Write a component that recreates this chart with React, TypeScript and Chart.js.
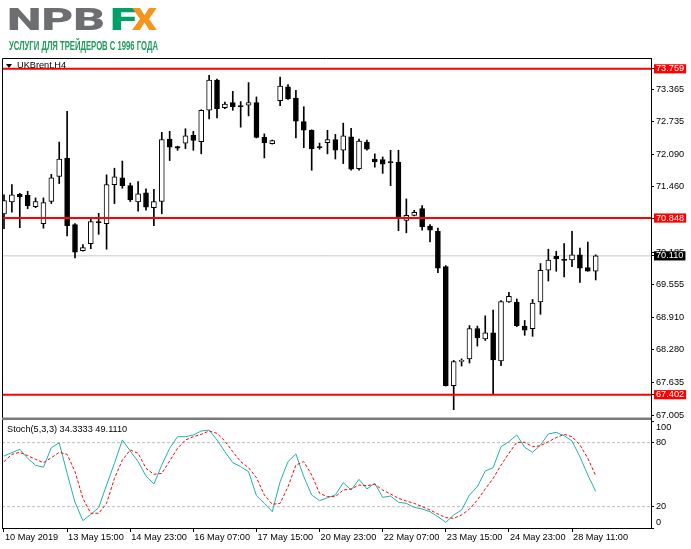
import React, { useEffect, useLayoutEffect, useRef } from "react";
import { Chart, registerables } from "chart.js";
Chart.register(...registerables);

// ---- Data (UKBrent, H4) ----
const opens = [70.93, 71.16, 71.31, 71.29, 71.07, 70.74, 71.17, 71.66, 72.02, 70.72, 70.21, 70.35, 70.78, 70.74, 71.50, 71.63, 71.48, 71.16, 71.34, 71.05, 71.17, 72.39, 72.24, 72.31, 72.46, 72.34, 72.95, 73.54, 73.00, 73.10, 73.04, 73.05, 73.10, 72.42, 72.30, 73.14, 73.41, 73.19, 72.73, 72.56, 72.24, 72.32, 72.38, 72.17, 72.43, 71.81, 72.33, 72.00, 71.99, 71.95, 71.94, 70.80, 70.90, 71.03, 70.69, 70.59, 69.90, 67.58, 68.05, 68.10, 68.69, 68.49, 68.61, 68.06, 69.21, 69.21, 68.74, 68.69, 69.21, 69.83, 70.10, 70.04, 70.03, 70.13, 69.88, 69.81];
const highs = [71.30, 71.50, 71.33, 71.37, 71.24, 71.24, 71.70, 72.33, 72.93, 70.74, 70.33, 70.85, 70.94, 71.69, 71.82, 71.96, 71.53, 71.56, 71.42, 71.41, 72.52, 72.54, 72.25, 72.59, 72.54, 72.96, 73.63, 73.56, 73.11, 73.32, 73.12, 73.49, 73.21, 72.49, 72.37, 73.60, 73.45, 73.34, 73.02, 72.57, 72.31, 72.56, 72.48, 72.70, 72.60, 72.39, 72.37, 72.10, 72.04, 72.17, 72.17, 71.22, 71.00, 71.09, 70.72, 70.65, 69.92, 68.07, 68.10, 68.75, 68.74, 68.94, 69.05, 69.24, 69.40, 69.27, 68.85, 69.26, 69.96, 70.24, 70.20, 70.35, 70.59, 70.26, 70.38, 70.13];
const lows = [70.64, 70.96, 70.66, 71.03, 71.05, 70.65, 71.13, 71.52, 70.50, 70.07, 70.20, 70.25, 70.53, 70.24, 71.13, 71.43, 71.17, 70.98, 71.00, 70.70, 70.93, 71.97, 72.17, 72.20, 72.17, 72.10, 72.78, 72.80, 72.98, 72.95, 72.62, 72.84, 72.41, 72.02, 72.29, 73.04, 73.16, 72.41, 72.22, 71.78, 72.19, 72.10, 72.00, 71.91, 71.78, 71.78, 72.17, 71.84, 71.72, 71.48, 70.60, 70.56, 70.89, 70.61, 70.38, 69.78, 67.57, 67.11, 67.96, 68.02, 68.35, 68.46, 67.40, 67.97, 69.20, 68.73, 68.56, 68.54, 68.97, 69.62, 69.81, 69.70, 69.90, 69.59, 69.81, 69.64];
const closes = [71.19, 71.30, 71.26, 71.09, 71.17, 71.15, 71.63, 72.00, 70.70, 70.18, 70.27, 70.78, 70.76, 71.50, 71.65, 71.48, 71.20, 71.32, 71.06, 71.17, 72.38, 72.23, 72.21, 72.45, 72.36, 72.95, 73.54, 72.98, 73.07, 73.02, 73.02, 73.10, 72.42, 72.32, 72.36, 73.42, 73.17, 72.74, 72.56, 72.20, 72.22, 72.38, 72.17, 72.45, 71.80, 72.35, 72.19, 71.95, 71.90, 71.93, 70.84, 70.90, 70.96, 70.68, 70.61, 69.87, 67.58, 68.05, 68.07, 68.69, 68.51, 68.61, 68.08, 69.22, 69.32, 68.75, 68.66, 69.19, 69.83, 70.03, 70.05, 70.02, 70.13, 69.87, 69.81, 70.11];

const stochMain = [67.5, 70.6, 73.7, 65.3, 58.8, 56.9, 75.3, 79.7, 51.3, 24.1, 6.9, 12.8, 19.0, 40.3, 60.6, 82.5, 72.2, 62.2, 48.7, 41.2, 59.0, 74.7, 85.6, 85.6, 87.2, 90.9, 91.8, 82.5, 71.5, 61.2, 57.5, 52.8, 30.3, 23.1, 15.3, 43.4, 62.2, 69.4, 48.1, 30.9, 25.6, 28.4, 30.9, 42.5, 35.6, 45.6, 36.6, 41.9, 28.7, 30.0, 24.1, 23.1, 19.4, 17.8, 15.3, 10.6, 5.3, 12.2, 16.9, 30.9, 38.7, 53.4, 56.5, 76.2, 80.9, 87.2, 75.6, 70.9, 77.8, 88.1, 89.7, 86.5, 81.5, 66.8, 49.7, 34.3333];
const stochSignal = [62.2, 69.0, 70.9, 67.8, 64.4, 61.2, 65.9, 70.9, 69.0, 52.8, 27.8, 13.8, 13.8, 23.1, 46.5, 63.7, 73.1, 70.0, 55.9, 50.3, 51.2, 62.8, 74.7, 82.5, 85.6, 87.8, 90.9, 88.7, 81.5, 71.5, 62.2, 56.5, 47.2, 30.9, 22.2, 23.1, 38.7, 59.0, 62.2, 49.7, 32.5, 29.4, 29.4, 35.6, 36.6, 40.3, 39.7, 40.9, 35.6, 31.9, 27.8, 25.3, 23.1, 20.0, 16.9, 13.1, 9.7, 9.1, 12.2, 17.8, 26.2, 36.6, 46.5, 59.0, 70.0, 80.3, 80.3, 76.2, 77.1, 80.9, 84.7, 87.8, 85.6, 77.8, 65.3, 49.111];

const levelPrices = [73.759, 70.848, 67.402];
const currentPrice = 70.11;
const priceTicks = [73.365, 72.735, 72.09, 71.46, 70.83, 70.185, 69.555, 68.91, 68.28, 67.635, 67.005];
const stochTicks = [100, 80, 20, 0];
const stochLevels = [80, 20];
const timeTickIdx = [0, 8, 16, 24, 32, 40, 48, 56, 64, 72];
const timeLabels = ["10 May 2019", "13 May 15:00", "14 May 23:00", "16 May 07:00", "17 May 15:00", "20 May 23:00", "22 May 07:00", "23 May 15:00", "24 May 23:00", "28 May 11:00"];

const FONT = "'Liberation Sans', Arial, sans-serif";

function Fit(props: { text: string; left: number; top: number; width: number; size: number; color: string; weight: number; family: string }) {
  const ref = useRef<HTMLSpanElement>(null);
  useLayoutEffect(() => {
    const el = ref.current;
    if (!el) return;
    el.style.transform = "none";
    const w = el.getBoundingClientRect().width;
    if (w > 0) el.style.transform = `scaleX(${props.width / w})`;
  }, [props.text, props.width]);
  return (
    <span
      ref={ref}
      style={{
        position: "absolute",
        left: props.left,
        top: props.top,
        fontSize: props.size,
        lineHeight: `${props.size}px`,
        fontWeight: props.weight,
        color: props.color,
        fontFamily: props.family,
        whiteSpace: "nowrap",
        display: "inline-block",
        transformOrigin: "0 0",
      }}
    >
      {props.text}
    </span>
  );
}

const framePlugin = {
  id: "mtframe",
  afterDraw(chart: any) {
    const { ctx, chartArea: a } = chart;
    const ys = chart.scales.y;
    ctx.save();
    ctx.strokeStyle = "#000";
    ctx.lineWidth = 1;
    ctx.beginPath();
    ctx.moveTo(a.left + 0.5, a.bottom);
    ctx.lineTo(a.left + 0.5, a.top + 0.5);
    ctx.lineTo(a.right, a.top + 0.5);
    ctx.stroke();
    ctx.fillStyle = "#7a7a7a";
    ctx.fillRect(a.left, ys.bottom - 0.5, a.right - a.left, 2.5);
    ctx.restore();
  },
};

export default function App() {
  const canvasRef = useRef<HTMLCanvasElement>(null);

  useEffect(() => {
    const canvas = canvasRef.current;
    if (!canvas) return;
    const idx = opens.map((_, i) => i);
    const xMin = -0.2535;
    const xMax = 82.01;
    const hline = (v: number) => [
      { x: xMin, y: v },
      { x: xMax, y: v },
    ];
    const isLevel = (v: number) => levelPrices.some((p) => Math.abs(p - v) < 1e-6);
    const isCur = (v: number) => Math.abs(v - currentPrice) < 1e-6;

    const datasets: any[] = [
      ...levelPrices.map((p) => ({
        type: "line",
        data: hline(p),
        borderColor: "#ff0000",
        borderWidth: 2,
        pointRadius: 0,
        yAxisID: "y",
        xAxisID: "x",
      })),
      {
        type: "line",
        data: stochSignal.map((v, i) => ({ x: i, y: v })),
        borderColor: "#ff0000",
        borderWidth: 1,
        borderDash: [3, 2],
        pointRadius: 0,
        tension: 0,
        yAxisID: "y2",
        xAxisID: "x",
      },
      {
        type: "line",
        data: stochMain.map((v, i) => ({ x: i, y: v })),
        borderColor: "#20b2aa",
        borderWidth: 1,
        pointRadius: 0,
        tension: 0,
        yAxisID: "y2",
        xAxisID: "x",
      },
      ...stochLevels.map((v) => ({
        type: "line",
        data: hline(v),
        borderColor: "#bdbdbd",
        borderWidth: 1,
        borderDash: [3, 2],
        pointRadius: 0,
        yAxisID: "y2",
        xAxisID: "x",
      })),
      {
        type: "bar",
        data: idx.map((i) => ({ x: i, y: [opens[i], closes[i]] })),
        backgroundColor: idx.map((i) => (closes[i] >= opens[i] ? "#ffffff" : "#000000")),
        borderColor: "#000000",
        borderWidth: 1,
        borderSkipped: false,
        grouped: false,
        categoryPercentage: 1,
        barPercentage: 1,
        maxBarThickness: 5,
        minBarLength: 1,
        yAxisID: "y",
        xAxisID: "x",
      },
      {
        type: "bar",
        data: idx.map((i) => ({ x: i, y: [lows[i], highs[i]] })),
        backgroundColor: "#000000",
        borderWidth: 0,
        grouped: false,
        categoryPercentage: 1,
        barPercentage: 1,
        maxBarThickness: 1,
        yAxisID: "y",
        xAxisID: "x",
      },
      {
        type: "line",
        data: hline(currentPrice),
        borderColor: "#c8c8c8",
        borderWidth: 1,
        pointRadius: 0,
        yAxisID: "y",
        xAxisID: "x",
      },
    ];

    const chart = new Chart(canvas, {
      type: "bar",
      data: { datasets },
      plugins: [framePlugin],
      options: {
        responsive: false,
        animation: false,
        events: [],
        layout: { padding: { left: 2, top: 58, right: 0, bottom: 0 } },
        plugins: { legend: { display: false }, tooltip: { enabled: false } },
        scales: {
          x: {
            type: "linear",
            min: xMin,
            max: xMax,
            offset: false,
            position: "bottom",
            afterBuildTicks: (s: any) => {
              s.ticks = timeTickIdx.map((v) => ({ value: v }));
            },
            afterFit: (s: any) => {
              s.height = 21;
            },
            grid: { offset: false, drawOnChartArea: false, drawTicks: true, tickLength: 4, tickColor: "#000" },
            border: { display: true, color: "#000" },
            ticks: {
              autoSkip: false,
              maxRotation: 0,
              minRotation: 0,
              align: "start",
              labelOffset: 1,
              padding: 0,
              color: "#000",
              font: { family: FONT, size: 9.2 },
              callback: (v: any) => {
                const k = timeTickIdx.indexOf(Number(v));
                return k >= 0 ? timeLabels[k] : "";
              },
            },
          },
          y: {
            type: "linear",
            position: "right",
            stack: "panes",
            stackWeight: 360,
            min: 66.947,
            max: 73.97,
            afterBuildTicks: (s: any) => {
              s.ticks = [...priceTicks, ...levelPrices, currentPrice].map((v) => ({ value: v }));
            },
            afterFit: (s: any) => {
              s.width = 40;
            },
            grid: { drawOnChartArea: false, tickLength: 3, tickColor: "#000" },
            border: { display: true, color: "#000" },
            ticks: {
              autoSkip: false,
              padding: 2,
              font: { family: FONT, size: 9.2, lineHeight: 1 },
              color: (c: any) => (isLevel(c.tick.value) || isCur(c.tick.value) ? "#ffffff" : "#000000"),
              showLabelBackdrop: (c: any) => isLevel(c.tick.value) || isCur(c.tick.value),
              backdropColor: (c: any) => (isCur(c.tick.value) ? "#000000" : "#ff0000"),
              backdropPadding: { left: 2, right: 2, top: 0, bottom: 0 },
              callback: (v: any) => Number(v).toFixed(3),
            },
          },
          y2: {
            type: "linear",
            position: "right",
            stack: "panes",
            stackWeight: 110,
            min: 0,
            max: 103.1,
            afterBuildTicks: (s: any) => {
              s.ticks = stochTicks.map((v) => ({ value: v }));
            },
            afterFit: (s: any) => {
              s.width = 40;
            },
            grid: { drawOnChartArea: false, tickLength: 3, tickColor: "#000" },
            border: { display: true, color: "#000" },
            ticks: {
              autoSkip: false,
              padding: 2,
              color: "#000",
              font: { family: FONT, size: 9.2, lineHeight: "12px" },
              callback: (v: any) => {
                const n = Number(v);
                if (n === 100) return ["", "100"];
                if (n === 0) return ["0", ""];
                return String(n);
              },
            },
          },
        },
      } as any,
    });
    return () => chart.destroy();
  }, []);

  return (
    <div style={{ position: "absolute", left: 0, top: 0, width: 691, height: 549, background: "#fff", overflow: "hidden" }}>
      <canvas ref={canvasRef} width={691} height={549} style={{ position: "absolute", left: 0, top: 0, width: 691, height: 549 }} />
      <Fit text="NPB" left={7} top={4.3} width={98} size={31.3} color="#6d6e71" weight={900} family="Roboto, 'Liberation Sans', sans-serif" />
      <Fit text="F" left={110} top={4.3} width={27} size={31.3} color="#00a06b" weight={900} family="Roboto, 'Liberation Sans', sans-serif" />
      <Fit text="X" left={132} top={4.3} width={25} size={31.3} color="#f7941d" weight={900} family="Roboto, 'Liberation Sans', sans-serif" />
      <Fit text="УСЛУГИ ДЛЯ ТРЕЙДЕРОВ С 1996 ГОДА" left={9} top={40} width={149} size={12.6} color="#1e9b5a" weight={700} family={FONT} />
      <div
        style={{
          position: "absolute",
          left: 6,
          top: 64,
          width: 0,
          height: 0,
          borderLeft: "3.5px solid transparent",
          borderRight: "3.5px solid transparent",
          borderTop: "4px solid #000",
        }}
      />
      <span style={{ position: "absolute", left: 17, top: 60.5, fontSize: 9.2, lineHeight: "9.2px", fontFamily: FONT, color: "#000", whiteSpace: "nowrap" }}>
        UKBrent,H4
      </span>
      <span style={{ position: "absolute", left: 7, top: 424.5, fontSize: 9.2, lineHeight: "9.2px", fontFamily: FONT, color: "#000", whiteSpace: "nowrap" }}>
        Stoch(5,3,3) 34.3333 49.1110
      </span>
    </div>
  );
}
